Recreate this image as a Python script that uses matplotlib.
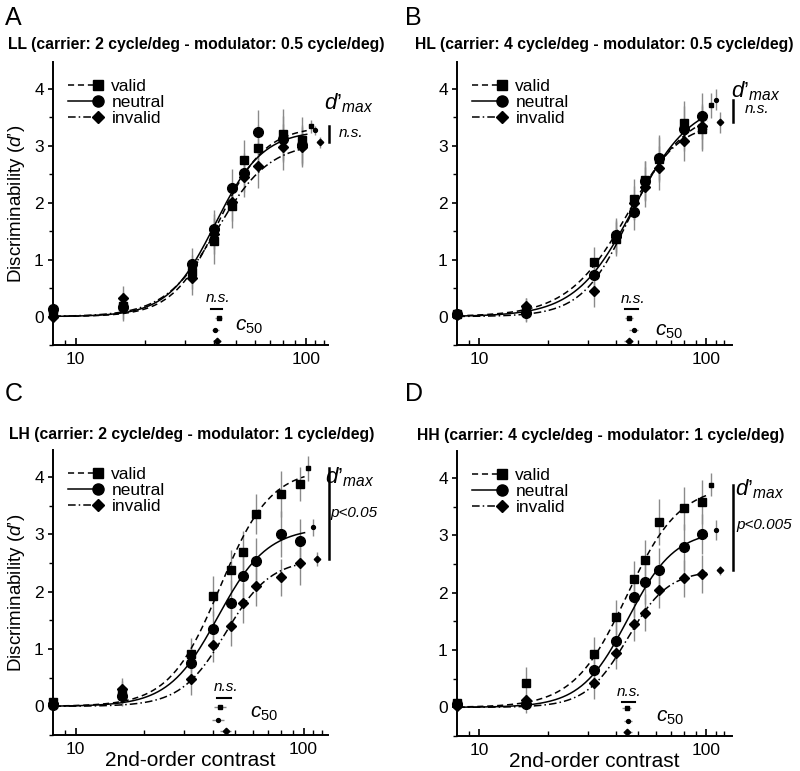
import numpy as np
import matplotlib
matplotlib.use('Agg')
import matplotlib.pyplot as plt
from matplotlib.lines import Line2D
from matplotlib.legend_handler import HandlerLine2D
from matplotlib.ticker import FixedLocator, FixedFormatter, NullFormatter, MultipleLocator

plt.rcParams['font.family'] = ['Liberation Sans', 'DejaVu Sans']
plt.rcParams['mathtext.fontset'] = 'custom'
plt.rcParams['mathtext.it'] = 'Liberation Sans:italic'
plt.rcParams['mathtext.rm'] = 'Liberation Sans'

# --- data ---
panels = ['A', 'B', 'C', 'D']
titles = ['LL (carrier: 2 cycle/deg - modulator: 0.5 cycle/deg)',
          'HL (carrier: 4 cycle/deg - modulator: 0.5 cycle/deg)',
          'LH (carrier: 2 cycle/deg - modulator: 1 cycle/deg)',
          'HH (carrier: 4 cycle/deg - modulator: 1 cycle/deg)']
conditions = ['valid', 'neutral', 'invalid']
contrast = [8, 16, 32, 40, 48, 54, 62, 80, 96]

valid = {'A': [0.06, 0.18, 0.78, 1.33, 1.95, 2.75, 2.96, 3.20, 3.10],
         'B': [0.04, 0.13, 0.95, 1.36, 2.07, 2.39, 2.76, 3.40, 3.30],
         'C': [0.08, 0.25, 0.92, 1.92, 2.38, 2.70, 3.35, 3.70, 3.88],
         'D': [0.08, 0.42, 0.93, 1.57, 2.23, 2.57, 3.23, 3.47, 3.58]}
neutral = {'A': [0.13, 0.16, 0.92, 1.53, 2.25, 2.53, 3.25, 3.12, 3.02],
           'B': [0.05, 0.06, 0.73, 1.43, 1.84, 2.38, 2.79, 3.30, 3.52],
           'C': [0.03, 0.18, 0.75, 1.35, 1.80, 2.27, 2.53, 3.00, 2.88],
           'D': [0.05, 0.05, 0.65, 1.15, 1.92, 2.18, 2.40, 2.80, 3.03]}
invalid = {'A': [0.00, 0.33, 0.67, 1.45, 2.02, 2.45, 2.65, 2.98, 2.98],
           'B': [0.02, 0.18, 0.45, 1.39, 2.00, 2.28, 2.61, 3.08, 3.34],
           'C': [0.05, 0.30, 0.48, 1.07, 1.40, 1.80, 2.10, 2.25, 2.50],
           'D': [0.03, 0.12, 0.42, 0.95, 1.45, 1.65, 2.05, 2.25, 2.32]}

valid_err = {'A': [0.10, 0.25, 0.30, 0.40, 0.40, 0.35, 0.40, 0.45, 0.40],
             'B': [0.08, 0.20, 0.28, 0.30, 0.35, 0.35, 0.40, 0.38, 0.40],
             'C': [0.08, 0.25, 0.28, 0.35, 0.35, 0.35, 0.35, 0.40, 0.30],
             'D': [0.08, 0.28, 0.30, 0.30, 0.32, 0.35, 0.40, 0.38, 0.38]}
neutral_err = {'A': [0.10, 0.20, 0.28, 0.35, 0.35, 0.35, 0.38, 0.40, 0.35],
               'B': [0.08, 0.15, 0.28, 0.30, 0.32, 0.35, 0.40, 0.40, 0.40],
               'C': [0.08, 0.15, 0.28, 0.32, 0.40, 0.40, 0.40, 0.40, 0.38],
               'D': [0.08, 0.15, 0.30, 0.35, 0.35, 0.38, 0.38, 0.40, 0.35]}
invalid_err = {'A': [0.10, 0.20, 0.30, 0.35, 0.35, 0.35, 0.40, 0.40, 0.35],
               'B': [0.08, 0.15, 0.28, 0.30, 0.30, 0.35, 0.38, 0.35, 0.40],
               'C': [0.08, 0.15, 0.28, 0.30, 0.35, 0.35, 0.35, 0.32, 0.38],
               'D': [0.08, 0.12, 0.28, 0.28, 0.30, 0.32, 0.32, 0.32, 0.33]}

# fitted d'max, c50 and exponent per condition (A, B, C, D)
dmax_valid = [3.34, 3.71, 4.15, 3.88]
dmax_neutral = [3.27, 3.81, 3.12, 3.09]
dmax_invalid = [3.06, 3.41, 2.57, 2.39]
dmax_err = [[0.12, 0.22, 0.22, 0.20], [0.08, 0.18, 0.15, 0.18], [0.10, 0.18, 0.12, 0.08]]
c50_valid = [41.9, 45.8, 43.0, 44.6]
c50_neutral = [40.5, 47.9, 42.1, 45.2]
c50_invalid = [41.2, 45.5, 45.6, 44.9]
c50_err = [1.5, 2.0, 2.5, 2.0]
n_valid = [4.3, 3.2, 3.9, 3.7]
n_neutral = [4.2, 3.4, 4.0, 4.2]
n_invalid = [3.8, 4.2, 4.4, 4.8]

dmax_stat = ['n.s.', 'n.s.', 'p<0.05', 'p<0.005']
xmax = [125, 130, 128, 130]

# annotation placement (data coords)
dmax_label_xy = [(153, 3.75), (165, 3.96), (160, 3.99), (172, 3.80)]
stat_label_xy = [(157, 3.22), (167, 3.64), (166, 3.37), (180, 3.18)]
ns_bar = [(38.9, 43.4, 0.13), (43.8, 49.8, 0.13), (41.9, 47.9, 0.15), (42.6, 48.5, 0.10)]
ns_text_xy = [(41.6, 0.33), (47.4, 0.30), (45.5, 0.33), (45.8, 0.27)]
c50_label_xy = [(49.5, -0.18), (59.5, -0.26), (58.5, -0.12), (60.0, -0.17)]
c50_marker_y = [-0.02, -0.23, -0.43]


def naka(c, dmax, c50, n):
    return dmax * c ** n / (c ** n + c50 ** n)


class EndMarkerHandler(HandlerLine2D):
    # legend entry: line with the marker at its right end
    def create_artists(self, legend, orig, xdescent, ydescent, width, height,
                       fontsize, trans):
        y = (height - ydescent) / 2
        line = Line2D([-xdescent, width - xdescent], [y, y])
        self.update_prop(line, orig, legend)
        line.set_marker('None')
        mark = Line2D([width - xdescent - 2], [y])
        self.update_prop(mark, orig, legend)
        mark.set_linestyle('None')
        line.set_transform(trans)
        mark.set_transform(trans)
        return [line, mark]


styles = {'valid': dict(ls=(0, (4, 2.5)), marker='s', ms=6),
          'neutral': dict(ls='-', marker='o', ms=7),
          'invalid': dict(ls=(0, (5, 2, 1, 2)), marker='D', ms=5.5)}
small_ms = {'valid': 3.5, 'neutral': 2.8, 'invalid': 3.3}
grey = '#8a8a8a'

fig = plt.figure(figsize=(8.0, 7.71), dpi=100)
positions = [[0.066, 0.5525, 0.344, 0.367], [0.571, 0.5525, 0.344, 0.367],
             [0.066, 0.0467, 0.344, 0.3696], [0.571, 0.0454, 0.344, 0.3696]]
letter_xy = [(0.006, 0.992), (0.506, 0.992), (0.006, 0.504), (0.506, 0.504)]
title_xy = [(0.245, 0.942), (0.755, 0.942), (0.240, 0.436), (0.751, 0.435)]

cc = np.logspace(np.log10(8), np.log10(101), 200)

for i, p in enumerate(panels):
    ax = fig.add_axes(positions[i])
    data = {'valid': (valid[p], valid_err[p], dmax_valid[i], c50_valid[i], n_valid[i]),
            'neutral': (neutral[p], neutral_err[p], dmax_neutral[i], c50_neutral[i], n_neutral[i]),
            'invalid': (invalid[p], invalid_err[p], dmax_invalid[i], c50_invalid[i], n_invalid[i])}
    handles = []
    for k, cond in enumerate(conditions):
        y, e, dm, c5, nn = data[cond]
        st = styles[cond]
        ax.vlines(contrast, np.array(y) - e, np.array(y) + e, color=grey, lw=1.0, zorder=1)
        ax.plot(cc, naka(cc, dm, c5, nn), color='black', lw=1.1, ls=st['ls'], zorder=2)
        ax.plot(contrast, y, ls='None', marker=st['marker'], ms=st['ms'], color='black',
                zorder=3, clip_on=False)
        # d'max marker on the right
        xd = [105, 110, 115][k]
        ax.vlines(xd, dm - dmax_err[k][i], dm + dmax_err[k][i], color=grey, lw=1.0, clip_on=False)
        ax.plot(xd, dm, marker=st['marker'], ms=small_ms[cond], color='black', clip_on=False)
        # c50 marker at the bottom
        yc = c50_marker_y[k]
        ax.hlines(yc, c5 - c50_err[i], c5 + c50_err[i], color=grey, lw=1.0)
        ax.plot(c5, yc, marker=st['marker'], ms=small_ms[cond], color='black')
        handles.append(Line2D([], [], color='black', lw=1.1, ls=st['ls'],
                              marker=st['marker'], ms=st['ms'] + 1, label=cond))

    # c50 annotation
    x0, x1, yb = ns_bar[i]
    ax.plot([x0, x1], [yb, yb], color='black', lw=1.5)
    ax.text(ns_text_xy[i][0], ns_text_xy[i][1], 'n.s.', style='italic', fontsize=11,
            ha='center', va='center')
    ax.text(c50_label_xy[i][0], c50_label_xy[i][1], r'$\mathit{c}_{\mathit{50}}$',
            fontsize=15, ha='left', va='center')

    # d'max annotation
    dm_all = [dmax_valid[i], dmax_neutral[i], dmax_invalid[i]]
    ax.plot([xmax[i] * 1.015] * 2, [min(dm_all), max(dm_all)], color='black', lw=1.8,
            clip_on=False)
    ax.text(dmax_label_xy[i][0], dmax_label_xy[i][1], r"$\mathit{d’}_{\mathit{max}}$",
            fontsize=16, ha='center', va='center')
    ax.text(stat_label_xy[i][0], stat_label_xy[i][1], dmax_stat[i], style='italic',
            fontsize=11, ha='center', va='center')

    ax.set_xscale('log')
    ax.set_xlim(7.95, xmax[i])
    ax.set_ylim(-0.5, 4.47)
    ax.spines['top'].set_visible(False)
    ax.spines['right'].set_visible(False)
    for s in ['left', 'bottom']:
        ax.spines[s].set_linewidth(1.4)
    ax.xaxis.set_major_locator(FixedLocator([10, 100]))
    ax.xaxis.set_minor_locator(FixedLocator([9, 20, 30, 40, 50, 60, 70, 80, 90, 110, 120]))
    ax.xaxis.set_major_formatter(FixedFormatter(['10', '100']))
    ax.xaxis.set_minor_formatter(NullFormatter())
    ax.yaxis.set_major_locator(FixedLocator([0, 1, 2, 3, 4]))
    ax.yaxis.set_minor_locator(MultipleLocator(0.5))
    ax.tick_params(axis='x', which='both', direction='in', labelsize=12.5, pad=5)
    ax.tick_params(axis='x', which='major', length=5, width=1.2)
    ax.tick_params(axis='x', which='minor', length=3.5, width=1.0)
    ax.tick_params(axis='y', which='both', direction='out', labelsize=12.5, pad=3)
    ax.tick_params(axis='y', which='major', length=3.5, width=1.2)
    ax.tick_params(axis='y', which='minor', length=3, width=1.0)

    ax.legend(handles=handles, loc='upper left', bbox_to_anchor=(0.03, 0.965),
              frameon=False, fontsize=12.5, handlelength=1.9, handletextpad=0.6,
              labelspacing=0.05, borderaxespad=0.0,
              handler_map={Line2D: EndMarkerHandler()})

    if i in (0, 2):
        ax.set_ylabel(r"Discriminability ($\mathit{d’}$)", fontsize=13.5, labelpad=5)
    if i in (2, 3):
        ax.set_xlabel('2nd-order contrast', fontsize=15, va='baseline')
        ax.xaxis.set_label_coords(0.5, -0.109)

    fig.text(letter_xy[i][0], letter_xy[i][1], p, fontsize=18, ha='left', va='top')
    fig.text(title_xy[i][0], title_xy[i][1], titles[i], fontsize=11.3, fontweight='bold',
             ha='center', va='center')

fig.savefig('out.png', dpi=100)
